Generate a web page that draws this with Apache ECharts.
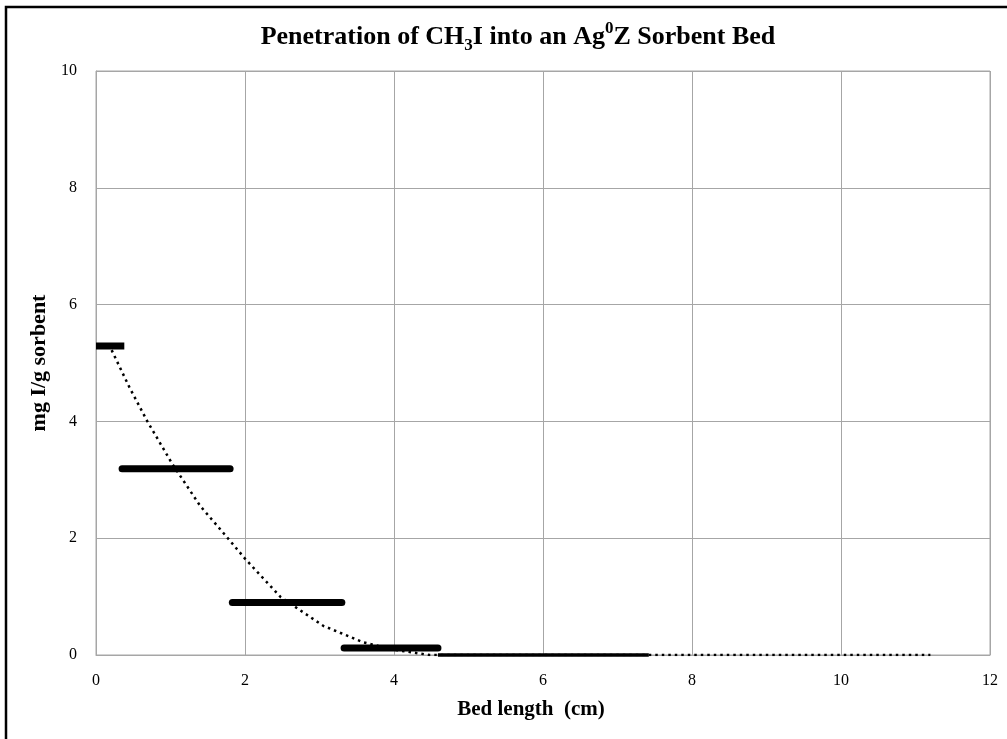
<!DOCTYPE html>
<html>
<head>
<meta charset="utf-8">
<script src="https://cdn.jsdelivr.net/npm/echarts@6/dist/echarts.min.js"></script>
<style>
	html,
	body {
		margin: 0;
		padding: 0;
		background: #fff;
	}
	#chart {
		width: 1007px;
		height: 739px;
	}
</style>
</head>
<body>
<div id="chart"></div>
<script>
// measured steps (bed sections), x in cm, y in mg I/g sorbent
const stepStart = [0, 0.35, 1.83, 3.33]
const stepEnd = [0.38, 1.8, 3.3, 4.59]
const stepValue = [5.29, 3.19, 0.9, 0.12]

// last section, essentially zero loading
const tailX = [4.59, 7.42]
const tailY = [0, 0]

// dotted trend line
const trendX = [0.21, 0.45, 0.69, 1.02, 1.4, 1.77, 2.0, 2.48, 3.05, 3.58, 4.0, 4.48, 11.2]
const trendY = [5.22, 4.58, 4.0, 3.28, 2.55, 2.0, 1.65, 0.99, 0.5, 0.22, 0.09, 0.0, 0.0]

const xTicks = [0, 2, 4, 6, 8, 10, 12]
const yTicks = [0, 2, 4, 6, 8, 10]

const serif = '"Times New Roman", "Liberation Serif", serif'
const gridGray = "#a6a6a6"

const pairs = (xs, ys) => xs.map((x, i) => [x, ys[i]])

let series = []
stepValue.forEach((v, i) => {
	series.push({
		type: "line",
		data: [
			[stepStart[i], v],
			[stepEnd[i], v]
		],
		showSymbol: false,
		lineStyle: { color: "#000", width: 7, cap: i === 0 ? "butt" : "round" },
		z: 3
	})
})
series.push({
	type: "line",
	data: pairs(tailX, tailY),
	showSymbol: false,
	clip: false,
	lineStyle: { color: "#000", width: 3.5 },
	z: 3
})
series.push({
	type: "line",
	data: pairs(trendX, trendY),
	showSymbol: false,
	smooth: false,
	lineStyle: { color: "#000", width: 2.5, type: [2.5, 4], join: "round" },
	z: 4
})

let chart = echarts.init(document.getElementById("chart"))
chart.setOption({
	animation: false,
	title: {
		text: "{a|Penetration of CH}{sub|3}{a|I into an Ag}{sup|0}{a|Z Sorbent Bed}",
		left: 513,
		top: 15,
		textAlign: "center",
		textStyle: {
			rich: {
				a: { fontFamily: serif, fontWeight: "bold", fontSize: 26, color: "#000", lineHeight: 34 },
				sub: {
					fontFamily: serif,
					fontWeight: "bold",
					fontSize: 17,
					color: "#000",
					lineHeight: 18,
					verticalAlign: "bottom"
				},
				sup: {
					fontFamily: serif,
					fontWeight: "bold",
					fontSize: 17,
					color: "#000",
					lineHeight: 20,
					verticalAlign: "top"
				}
			}
		}
	},
	graphic: [
		{
			type: "rect",
			shape: { x: 6, y: 7, width: 1010, height: 740 },
			style: { fill: "none", stroke: "#000", lineWidth: 2.5 },
			silent: true
		}
	],
	grid: {
		left: 96,
		right: 17,
		top: 71,
		bottom: 84,
		show: true,
		borderColor: gridGray,
		borderWidth: 1
	},
	xAxis: {
		type: "value",
		min: xTicks[0],
		max: xTicks[xTicks.length - 1],
		interval: 2,
		name: "Bed length  (cm)",
		nameLocation: "middle",
		nameGap: 44,
		nameTextStyle: {
			fontFamily: serif,
			fontWeight: "bold",
			fontSize: 21,
			color: "#000",
			padding: [0, 24, 0, 0]
		},
		axisLine: { lineStyle: { color: gridGray } },
		axisTick: { show: false },
		axisLabel: { fontFamily: serif, fontSize: 16, color: "#000", margin: 18 },
		splitLine: { lineStyle: { color: gridGray } }
	},
	yAxis: {
		type: "value",
		min: yTicks[0],
		max: yTicks[yTicks.length - 1],
		interval: 2,
		name: "mg I/g sorbent",
		nameLocation: "middle",
		nameGap: 45,
		nameTextStyle: {
			fontFamily: serif,
			fontWeight: "bold",
			fontSize: 22,
			color: "#000"
		},
		axisLine: { show: true, lineStyle: { color: gridGray } },
		axisTick: { show: false },
		axisLabel: { fontFamily: serif, fontSize: 16, color: "#000", margin: 19 },
		splitLine: { lineStyle: { color: gridGray } }
	},
	series: series
})
</script>
</body>
</html>
